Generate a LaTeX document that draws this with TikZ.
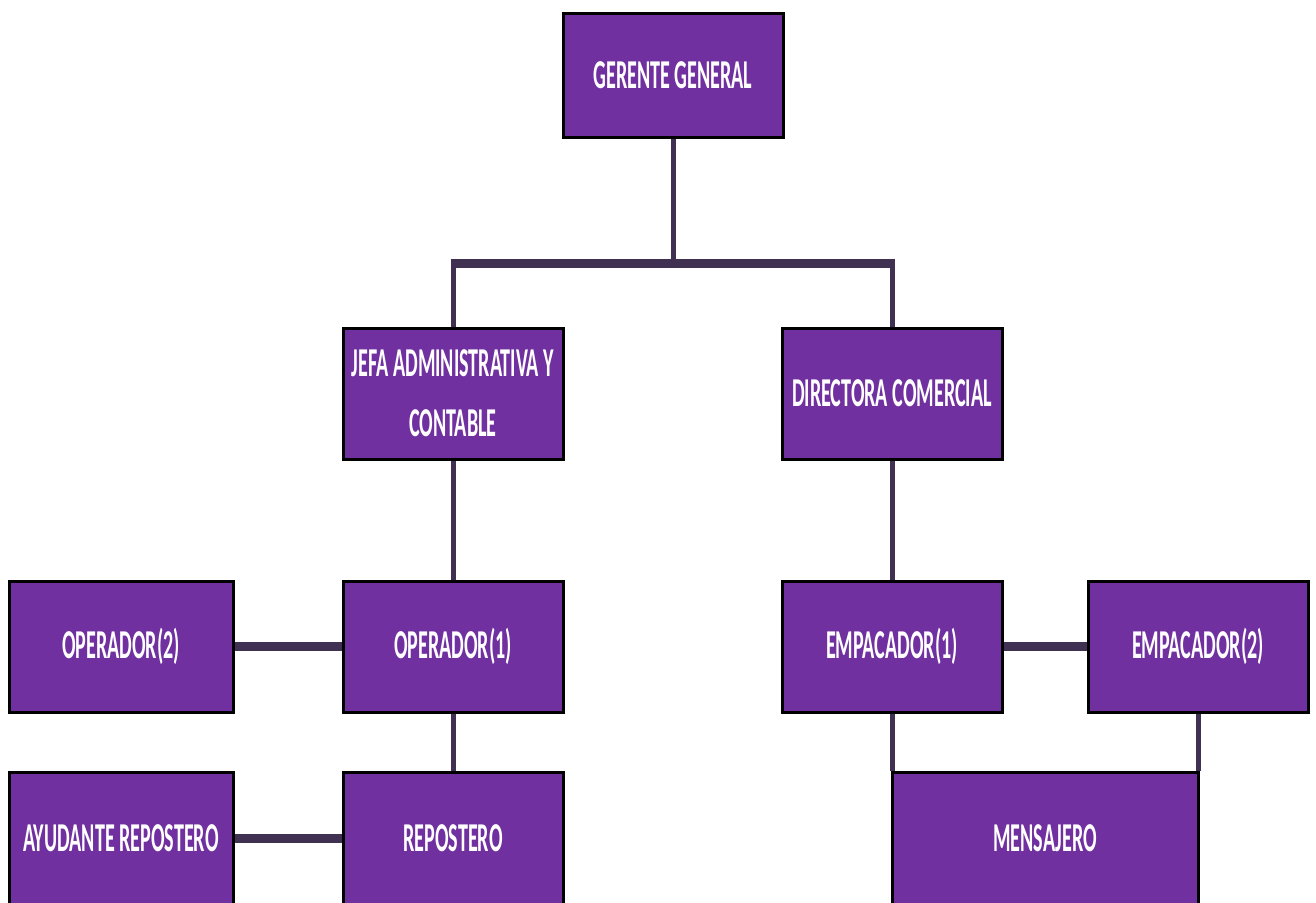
\documentclass[tikz,border=0pt]{standalone}
\usepackage{fontspec}
\newfontfamily\lblfont[FakeStretch=0.49]{Carlito}
\usetikzlibrary{backgrounds,calc}
\definecolor{boxpurple}{HTML}{7030A0}
\definecolor{linecol}{HTML}{403152}
\begin{document}
\begin{tikzpicture}[x=1pt,y=-1pt,
  box/.style={draw=black, line width=3pt, fill=boxpurple, text=white, inner sep=0pt,
    minimum width=220pt, minimum height=131pt, align=center,
    font=\lblfont\bfseries\fontsize{41}{60}\selectfont},
  vline/.style={draw=linecol, line width=5pt},
  hline/.style={draw=linecol, line width=9pt}]
\useasboundingbox (0,0) rectangle (1316,902);
\node[box, minimum height=124pt] (G) at (673,75) {GERENTE GENERAL};
\node[box] (J) at (453,393.5) {JEFA ADMINISTRATIVA Y\\CONTABLE};
\node[box] (D) at (892,393.5) {DIRECTORA COMERCIAL};
\node[box, minimum width=224pt] (O2) at (121,646.5) {OPERADOR(2)};
\node[box] (O1) at (453,646.5) {OPERADOR(1)};
\node[box] (E1) at (892,646.5) {EMPACADOR(1)};
\node[box] (E2) at (1198,646.5) {EMPACADOR(2)};
\node[box, minimum width=224pt, minimum height=132pt] (A) at (121,838) {AYUDANTE REPOSTERO};
\node[box, minimum height=132pt] (R) at (453,838) {REPOSTERO};
\node[box, minimum width=306pt, minimum height=132pt] (M) at (1045,838) {MENSAJERO};
\coordinate (top) at (673,263);
\coordinate (ltop) at ($(J.north |- top)+(0,-4.5)$);
\coordinate (rtop) at ($(D.north |- top)+(0,-4.5)$);
\begin{scope}[on background layer]
\draw[vline] (G.south) -- (top);
\draw[hline] ($(J.north |- top)+(2.5,0)$) -- ($(D.north |- top)+(-2.5,0)$);
\draw[vline] (ltop) -- (J.north);
\draw[vline] (rtop) -- (D.north);
\draw[vline] (J.south) -- (O1.north);
\draw[hline] (O2.east) -- (O1.west);
\draw[vline] (O1.south) -- (R.north);
\draw[hline] (A.east) -- (R.west);
\draw[vline] (D.south) -- (E1.north);
\draw[hline] (E1.east) -- (E2.west);
\draw[vline] (E1.south) -- (E1.south |- M.north);
\draw[vline] (E2.south) -- (E2.south |- M.north);
\end{scope}
\end{tikzpicture}
\end{document}
